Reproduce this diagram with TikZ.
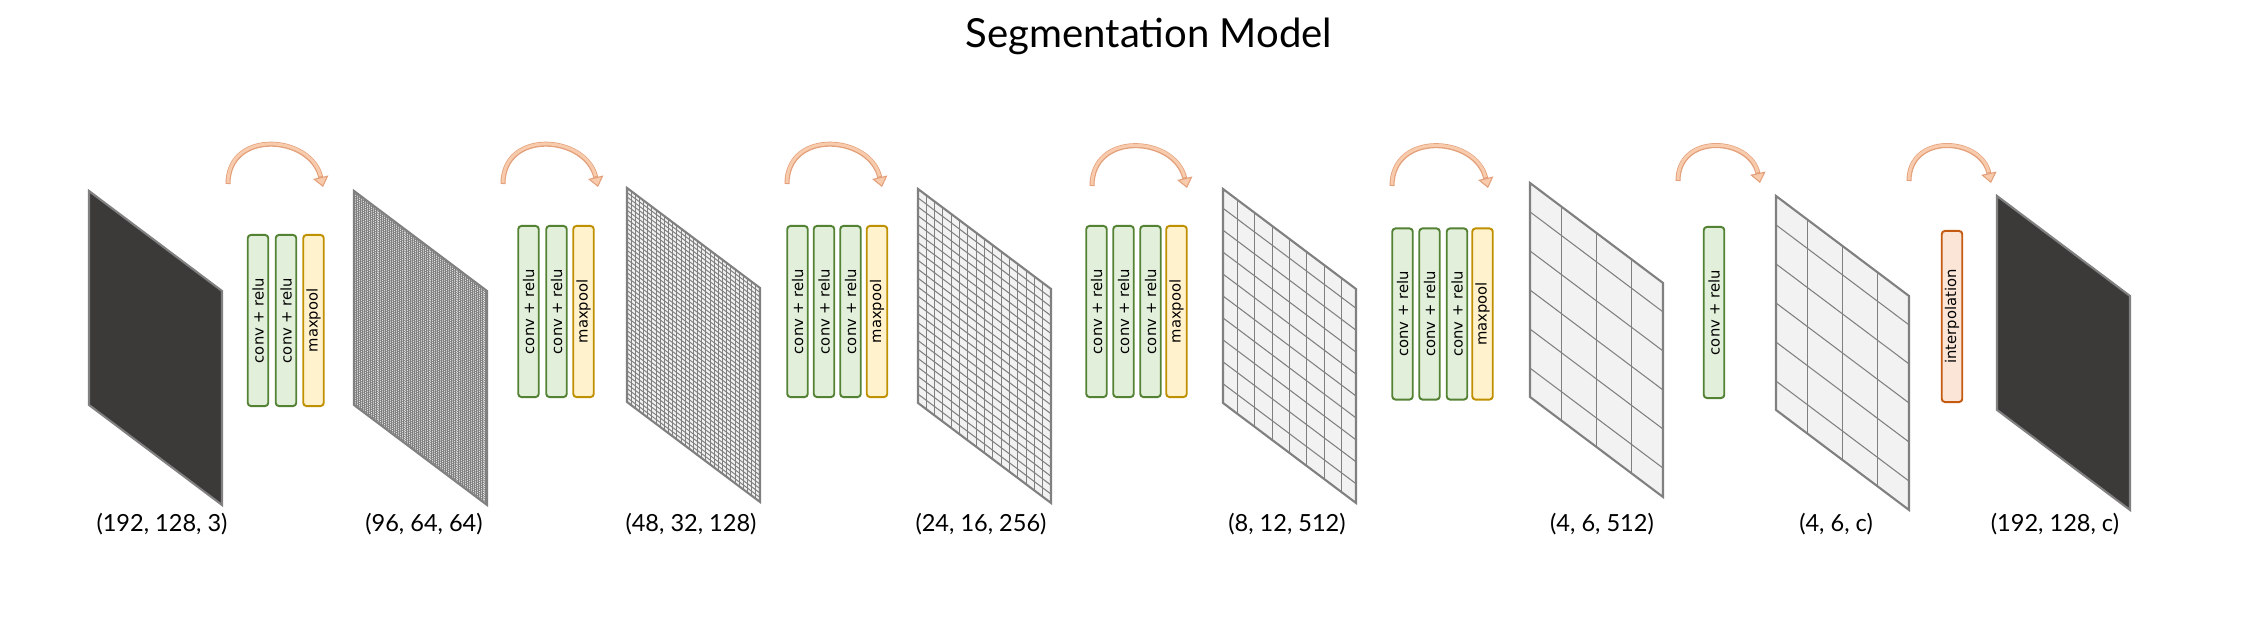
\documentclass[tikz,border=0pt]{standalone}
\usepackage{fontspec}
\setmainfont{Lato}
\newfontfamily\layerfont{DejaVu Sans}
\usetikzlibrary{arrows.meta}

\definecolor{planedark}{HTML}{3B3A38}
\definecolor{planeedge}{HTML}{808080}
\definecolor{planefill}{HTML}{F2F2F2}
\definecolor{convfill}{HTML}{E2EFDA}
\definecolor{convedge}{HTML}{548235}
\definecolor{poolfill}{HTML}{FFF2CC}
\definecolor{pooledge}{HTML}{BF9000}
\definecolor{interpfill}{HTML}{FBE5D6}
\definecolor{interpedge}{HTML}{C55A11}
\definecolor{arcfill}{HTML}{F8CBAD}
\definecolor{arcedge}{HTML}{E3A07A}

\tikzset{
  layer/.style={rotate=90, rounded corners=0.9pt, line width=0.55pt, inner sep=0pt,
    minimum width=1.71cm, minimum height=0.205cm,
    font=\layerfont\fontsize{4.2}{5}\selectfont},
  conv/.style={layer, draw=convedge, fill=convfill},
  pool/.style={layer, draw=pooledge, fill=poolfill},
  interp/.style={layer, draw=interpedge, fill=interpfill},
  dims/.style={anchor=base, font=\fontsize{6.7}{8}\selectfont},
  arcout/.style={draw=arcedge, line width=0.05cm,
    -{Triangle[length=0.1cm, width=0.155cm, line width=0.3pt, fill=arcfill]}},
  arcin/.style={draw=arcfill, line width=0.03cm, shorten <=0.3pt, shorten >=0.11cm},
}

% x0, y0, cols/2-1, col step, rows/2-1, row step, line width
\newcommand{\gridplane}[7]{%
  \begin{scope}[shift={(#1,#2)}]
    \fill[planefill] (0,0) -- (133,100) -- (133,314) -- (0,214) -- cycle;
    \foreach \k in {-#3,...,#3}
      \draw[planeedge, line width=#7] ({66.5+133*\k*#4},{50+100*\k*#4}) -- ++(0,214);
    \foreach \k in {-#5,...,#5}
      \draw[planeedge, line width=#7] (0,{107+214*\k*#6}) -- ++(133,100);
    \draw[planeedge, line width=0.6pt] (0,0) -- (133,100) -- (133,314) -- (0,214) -- cycle;
  \end{scope}}

\newcommand{\darkplane}[2]{%
  \filldraw[fill=planedark, draw=planeedge, line width=0.6pt, shift={(#1,#2)}]
    (0,0) -- (133,100) -- (133,314) -- (0,214) -- cycle;}

\begin{document}
\begin{tikzpicture}[x=0.01cm, y=-0.01cm]
  \useasboundingbox (0,0) rectangle (2260,622);

  \node[anchor=base, font=\fontsize{11.4}{13}\selectfont] (title) at (1149,48) {Segmentation Model};

  \darkplane{89}{191}
  \gridplane{354}{191}{31}{0.015625}{47}{0.0104167}{0.22pt}
  \gridplane{627}{188}{15}{0.03125}{23}{0.0208333}{0.28pt}
  \gridplane{918}{189}{7}{0.0625}{11}{0.0416667}{0.3pt}
  \gridplane{1223}{189}{3}{0.13}{4}{0.1025}{0.3pt}
  \gridplane{1530}{183}{1}{0.263}{2}{0.1825}{0.3pt}
  \gridplane{1776}{196}{1}{0.263}{2}{0.1825}{0.3pt}
  \darkplane{1997}{196}

  \node[dims] (d1) at (162,532) {(192, 128, 3)};
  \node[dims] (d2) at (424,532) {(96, 64, 64)};
  \node[dims] (d3) at (691,532) {(48, 32, 128)};
  \node[dims] (d4) at (981,532) {(24, 16, 256)};
  \node[dims] (d5) at (1287,532) {(8, 12, 512)};
  \node[dims] (d6) at (1602,532) {(4, 6, 512)};
  \node[dims] (d7) at (1836,532) {(4, 6, c)};
  \node[dims] (d8) at (2055,532) {(192, 128, c)};

  \node[conv] (c11) at (258,320.5) {conv + relu};
  \node[conv] (c12) at (286,320.5) {conv + relu};
  \node[pool] (m1) at (313.5,320.5) {maxpool};

  \node[conv] (c21) at (528.5,311.5) {conv + relu};
  \node[conv] (c22) at (556.5,311.5) {conv + relu};
  \node[pool] (m2) at (583.5,311.5) {maxpool};

  \node[conv] (c31) at (797.5,311.5) {conv + relu};
  \node[conv] (c32) at (824,311.5) {conv + relu};
  \node[conv] (c33) at (850.5,311.5) {conv + relu};
  \node[pool] (m3) at (877,311.5) {maxpool};

  \node[conv] (c41) at (1096.5,311.5) {conv + relu};
  \node[conv] (c42) at (1123.5,311.5) {conv + relu};
  \node[conv] (c43) at (1150.5,311.5) {conv + relu};
  \node[pool] (m4) at (1176.5,311.5) {maxpool};

  \node[conv] (c51) at (1402.5,314) {conv + relu};
  \node[conv] (c52) at (1429.5,314) {conv + relu};
  \node[conv] (c53) at (1457,314) {conv + relu};
  \node[pool] (m5) at (1482.5,314) {maxpool};

  \node[conv] (c61) at (1714,312.5) {conv + relu};
  \node[interp] (up) at (1952,316.5) {interpolation};

  \coordinate (s1) at (228,184);   \coordinate (e1) at (323,187);
  \coordinate (s2) at (503,184);   \coordinate (e2) at (598,187);
  \coordinate (s3) at (787,184);   \coordinate (e3) at (882,187);
  \coordinate (s4) at (1092,186);  \coordinate (e4) at (1187,188);
  \coordinate (s5) at (1392,186);  \coordinate (e5) at (1488,188);
  \coordinate (s6) at (1678,181);  \coordinate (e6) at (1760,183);
  \coordinate (s7) at (1909,181);  \coordinate (e7) at (1991,183);

  \foreach \i in {1,...,5} {
    \draw[arcout] (s\i) .. controls +(0,-55) and +(-12,-52) .. (e\i);
    \draw[arcin] (s\i) .. controls +(0,-55) and +(-12,-52) .. (e\i);
  }
  \foreach \i in {6,7} {
    \draw[arcout] (s\i) .. controls +(0,-48) and +(-10,-46) .. (e\i);
    \draw[arcin] (s\i) .. controls +(0,-48) and +(-10,-46) .. (e\i);
  }
\end{tikzpicture}
\end{document}
